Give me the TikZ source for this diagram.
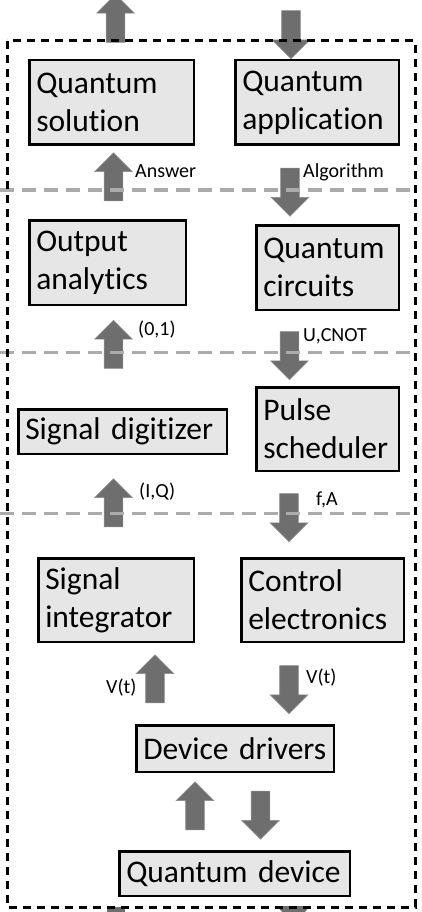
\documentclass[tikz,border=0pt]{standalone}
\usepackage{fontspec}
\setmainfont[Ligatures=NoCommon]{Carlito}
\usepackage{xcolor}
\usepackage{tikz}
\usetikzlibrary{shapes.arrows}
\definecolor{boxgray}{HTML}{E6E6E6}
\definecolor{flowgray}{HTML}{6E6E6E}
\definecolor{flowedge}{HTML}{8C8C8C}
\definecolor{layergray}{HTML}{ABABAB}
\newcommand{\boxfont}{\fontsize{31.5}{38}\selectfont}
\newcommand{\tagfont}{\fontsize{20}{24}\selectfont}

\begin{document}
\begin{tikzpicture}[
    x = 1pt, y = -1pt,
    block/.style = {
      rectangle, draw, line width = 2.5pt, fill = boxgray, align = left,
      inner xsep = 7pt, inner ysep = 0pt, font = \boxfont
    },
    flow/.style = {
      single arrow, draw = flowedge, line width = 0.6pt, fill = flowgray,
      minimum height = 48pt, minimum width = 37pt,
      single arrow head extend = 9.5pt, inner xsep = 0pt, inner ysep = 9pt
    },
    upflow/.style = {flow, rotate = 90},
    downflow/.style = {flow, rotate = -90},
    tag/.style = {
      anchor = base west, inner sep = 0pt, font = \tagfont
    },
    layer/.style = {
      draw = layergray, line width = 3pt, dash pattern = on 14pt off 8pt
    },
    frame/.style = {
      draw = black, line width = 3pt, dash pattern = on 8pt off 6pt
    },
    ]

    \useasboundingbox (0,0) rectangle (421,912);
    \clip (0,0) rectangle (421,912);

    % draw blocks
    \node  [block, text width = 150.5pt, minimum height = 84.5pt]  (qsol)  at (111.5,102.5)  {Quantum\\solution};
    \node  [block, text width = 149.5pt, minimum height = 84.5pt]  (qapp)  at (317,102.5)  {Quantum\\application};
    \node  [block, text width = 142.5pt, minimum height = 84.5pt]  (outan)  at (107.5,262.5)  {Output\\analytics};
    \node  [block, text width = 128.5pt, minimum height = 84.5pt]  (qcirc)  at (327.5,267.5)  {Quantum\\circuits};
    \node  [block, text width = 194.5pt, minimum height = 44.5pt]  (sigdig)  at (122.5,431.5)  {Signal digitizer};
    \node  [block, text width = 128.5pt, minimum height = 83.5pt]  (pulse)  at (327.5,429)  {Pulse\\scheduler};
    \node  [block, text width = 141.5pt, minimum height = 83.5pt]  (sigint)  at (116,600)  {Signal\\integrator};
    \node  [block, text width = 148.5pt, minimum height = 83.5pt]  (ctrl)  at (322.5,600)  {Control\\electronics};
    \node  [block, text width = 183.5pt, minimum height = 46.5pt]  (drv)  at (235,748.5)  {Device drivers};
    \node  [block, text width = 216.5pt, minimum height = 44.5pt]  (qdev)  at (234.5,873.5)  {Quantum device};

    % draw flows
    \foreach \n/\x/\y in {solout/115.5/23, answer/113.5/181.5, bits/113.5/349,
                          iq/113.5/507.5, vtup/155/683.5, devup/195/810.5}
    \node  [upflow]  (\n)  at (\x,\y)  {};

    \foreach \n/\x/\y in {appin/291/30, algo/290/187.5, gates/289.5/351,
                          fa/289/513, vtdown/289/685, devdown/260.5/810.5}
    \node  [downflow]  (\n)  at (\x,\y)  {};

    % cut flows below the frame
    \fill  [flowgray]  (107,907) rectangle (125,913);
    \fill  [flowgray]  (277,906) -- (310,906) -- (304,913) -- (283,913) -- cycle;

    % draw tags
    \node  [tag]  (t_answer)  at (135,178)  {Answer};
    \node  [tag]  (t_algo)  at (303,178)  {Algorithm};
    \node  [tag]  (t_bits)  at (138,335)  {(0,1)};
    \node  [tag]  (t_gates)  at (303,341)  {U,CNOT};
    \node  [tag]  (t_iq)  at (139,497)  {(I,Q)};
    \node  [tag]  (t_fa)  at (316,505)  {f,A};
    \node  [tag]  (t_vtup)  at (106,693)  {V(t)};
    \node  [tag]  (t_vtdown)  at (306,683)  {V(t)};

    % draw layers and frame
    \foreach \y in {190, 352, 513}
    \path  [layer]  (0,\y) -- (415,\y);

    \path  [frame]  (7,41) rectangle (415,907);

\end{tikzpicture}
\end{document}
